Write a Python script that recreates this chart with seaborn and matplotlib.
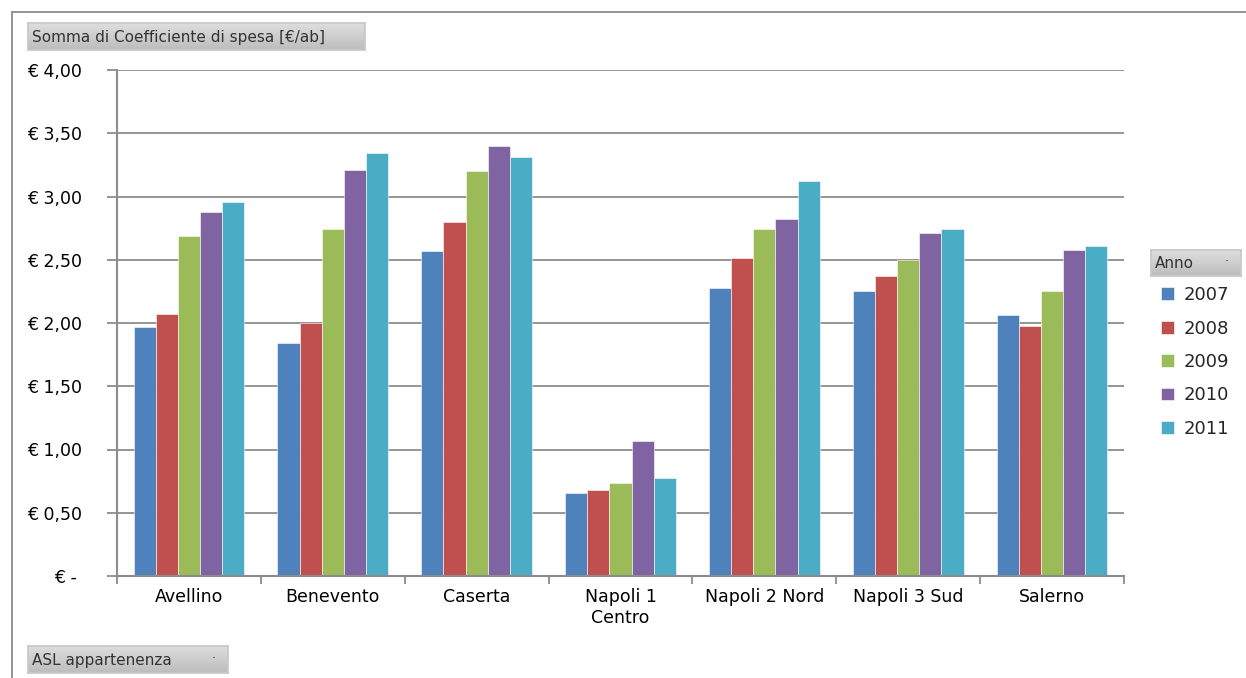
import numpy as np
import pandas as pd
import matplotlib
matplotlib.use("Agg")
import matplotlib.pyplot as plt
from matplotlib.lines import Line2D
import seaborn as sns

# ── Data ─────────────────────────────────────────────────────────
ASL = ["Avellino", "Benevento", "Caserta", "Napoli 1\nCentro",
       "Napoli 2 Nord", "Napoli 3 Sud", "Salerno"]
ANNI = ["2007", "2008", "2009", "2010", "2011"]
v2007 = [1.97, 1.84, 2.57, 0.66, 2.28, 2.25, 2.06]
v2008 = [2.07, 2.00, 2.80, 0.68, 2.51, 2.37, 1.98]
v2009 = [2.69, 2.74, 3.20, 0.735, 2.74, 2.50, 2.25]
v2010 = [2.88, 3.21, 3.40, 1.07, 2.82, 2.71, 2.58]
v2011 = [2.96, 3.34, 3.31, 0.775, 3.12, 2.74, 2.61]
Y_TICKS = [0, 0.5, 1.0, 1.5, 2.0, 2.5, 3.0, 3.5, 4.0]
Y_LABELS = ["€ - ", "€ 0,50", "€ 1,00", "€ 1,50", "€ 2,00",
            "€ 2,50", "€ 3,00", "€ 3,50", "€ 4,00"]
COLORS = ["#4F81BD", "#C0504D", "#9BBB59", "#8064A2", "#4BACC6"]

rows = []
for anno, vals in zip(ANNI, [v2007, v2008, v2009, v2010, v2011]):
    for asl, v in zip(ASL, vals):
        rows.append({"ASL": asl, "Anno": anno, "Coeff": v})
df = pd.DataFrame(rows)

sns.set_theme(style="white")
plt.rcParams["font.family"] = ["DejaVu Sans"]

W, H = 1246, 678
fig = plt.figure(figsize=(W / 100, H / 100), dpi=100)
ax = fig.add_axes([117 / W, 1 - 576 / H, 1007 / W, 506 / H])

sns.barplot(data=df, x="ASL", y="Coeff", hue="Anno", order=ASL,
            hue_order=ANNI, palette=COLORS, width=0.77, gap=0,
            saturation=1, edgecolor="white", linewidth=0.4, ax=ax)

ax.set_ylim(0, 4.0)
ax.set_xlim(-0.5, len(ASL) - 0.5)
ax.set_yticks(Y_TICKS)
ax.set_yticklabels(Y_LABELS, fontsize=12.5)
ax.yaxis.grid(True, color="#8c8c8c", linewidth=1.3)
ax.set_axisbelow(True)
ax.set_xlabel("")
ax.set_ylabel("")
ax.tick_params(axis="x", which="major", length=0, pad=9, labelsize=12.5)
ax.set_xticks(np.arange(-0.5, len(ASL)), minor=True)
ax.tick_params(axis="x", which="minor", length=6, color="#8c8c8c", width=1.3,
               direction="out", bottom=True)
ax.tick_params(axis="y", length=7, color="#8c8c8c", width=1.3,
               direction="out", left=True, pad=18)
for t in ax.get_xticklabels() + ax.get_yticklabels():
    t.set_color("black")
for s in ["top", "right"]:
    ax.spines[s].set_visible(False)
for s in ["left", "bottom"]:
    ax.spines[s].set_color("#8c8c8c")
    ax.spines[s].set_linewidth(1.5)

# legend
handles, labels = ax.get_legend_handles_labels()
ax.legend(handles, labels, loc="upper left", frameon=False,
          bbox_to_anchor=(1154 / W, 1 - 279 / H), bbox_transform=fig.transFigure,
          fontsize=13, handlelength=0.72, handleheight=0.72,
          handletextpad=0.5, labelspacing=0.85, borderaxespad=0)


# ── Excel pivot-field buttons ─────────────────────────────────────
def button(x0, y0, x1, y1, text, arrow=False):
    bax = fig.add_axes([x0 / W, 1 - y1 / H, (x1 - x0) / W, (y1 - y0) / H])
    grad = np.linspace(0.87, 0.74, 50).reshape(-1, 1)
    bax.imshow(grad, cmap="gray", vmin=0, vmax=1, aspect="auto",
               extent=[0, 1, 0, 1])
    bax.set_xlim(0, 1)
    bax.set_ylim(0, 1)
    bax.set_xticks([])
    bax.set_yticks([])
    for s in bax.spines.values():
        s.set_color("#c8c8c8")
    bax.text(4 / (x1 - x0), 0.48, text, fontsize=11, color="#333333",
             va="center", ha="left", transform=bax.transAxes)
    if arrow:
        bax.text(1 - 14 / (x1 - x0), 0.55, "·", fontsize=9, color="#333333",
                 va="center", ha="center", transform=bax.transAxes)


button(28, 23, 365, 50, "Somma di Coefficiente di spesa [€/ab]")
button(28, 646, 228, 673, "ASL appartenenza", arrow=True)
button(1151, 250, 1241, 276, "Anno", arrow=True)

# outer frame of the chart object
fig.add_artist(Line2D([12 / W, 1], [1 - 12 / H, 1 - 12 / H],
                      color="#8a8a8a", linewidth=1.3, transform=fig.transFigure))
fig.add_artist(Line2D([12 / W, 12 / W], [0, 1 - 12 / H],
                      color="#8a8a8a", linewidth=1.3, transform=fig.transFigure))

fig.savefig("out.png", dpi=100, facecolor="white")
plt.close(fig)
